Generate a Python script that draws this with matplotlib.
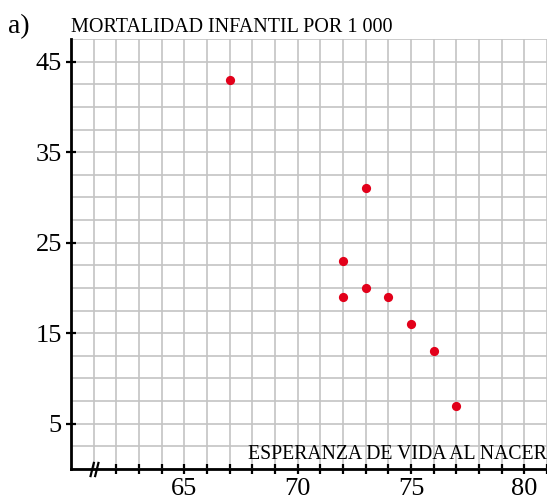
import matplotlib
matplotlib.use("Agg")
import matplotlib.pyplot as plt
from matplotlib.ticker import MultipleLocator, FixedLocator, FuncFormatter
from matplotlib.path import Path

# Life expectancy at birth (years) vs infant mortality per 1000 births
esperanza = [67, 72, 72, 73, 73, 74, 75, 76, 77]
mortalidad = [43, 23, 19, 31, 20, 19, 16, 13, 7]

x_ticks = list(range(62, 82))
x_labeled = [65, 70, 75, 80]
y_ticks = [5, 15, 25, 35, 45]

plt.rcParams['font.family'] = ['Liberation Serif', 'DejaVu Serif']

fig = plt.figure(figsize=(5.47, 5.03), dpi=100)
ax = fig.add_axes([71 / 547, 34 / 503, 476 / 547, 430 / 503])
ax.set_xlim(60, 81)
ax.set_ylim(0, 47.5)

# squared paper background
ax.xaxis.set_minor_locator(MultipleLocator(1))
ax.yaxis.set_minor_locator(MultipleLocator(2.5))
ax.xaxis.set_major_locator(FixedLocator(x_ticks))
ax.xaxis.set_major_formatter(FuncFormatter(lambda v, p: f"{int(v)}" if int(v) in x_labeled else ""))
ax.yaxis.set_major_locator(FixedLocator(y_ticks))
ax.grid(which='both', color='#c4c4c4', linewidth=1.2)
ax.set_axisbelow(True)

ax.tick_params(which='minor', length=0)
ax.tick_params(which='major', direction='inout', length=7, width=1.6, color='black',
               labelsize=19)
ax.tick_params(axis='x', pad=3)
ax.tick_params(axis='y', pad=3)

for s in ('top', 'right'):
    ax.spines[s].set_visible(False)
for s in ('left', 'bottom'):
    ax.spines[s].set_linewidth(2)
    ax.spines[s].set_zorder(5)

ax.scatter(esperanza, mortalidad, s=44, color='#e2001a', zorder=6, linewidths=0)

# axis break symbol
brk = Path([(-0.55, -1), (-0.05, 1), (0.05, -1), (0.55, 1)],
           [Path.MOVETO, Path.LINETO, Path.MOVETO, Path.LINETO])
ax.plot([61], [0], marker=brk, markersize=11, markeredgewidth=1.6, color='black',
        linestyle='none', clip_on=False, zorder=7)

ax.text(0, 1 + 7 / 430, "MORTALIDAD INFANTIL POR 1 000", transform=ax.transAxes,
        fontsize=14.5, ha='left', va='baseline')
ax.text(1.0, 0.012, "ESPERANZA DE VIDA AL NACER", transform=ax.transAxes,
        fontsize=14.2, ha='right', va='bottom')
fig.text(8 / 547, 1 - 33 / 503, "a)", fontsize=20, ha='left', va='baseline')

fig.savefig("out.png", dpi=100)
